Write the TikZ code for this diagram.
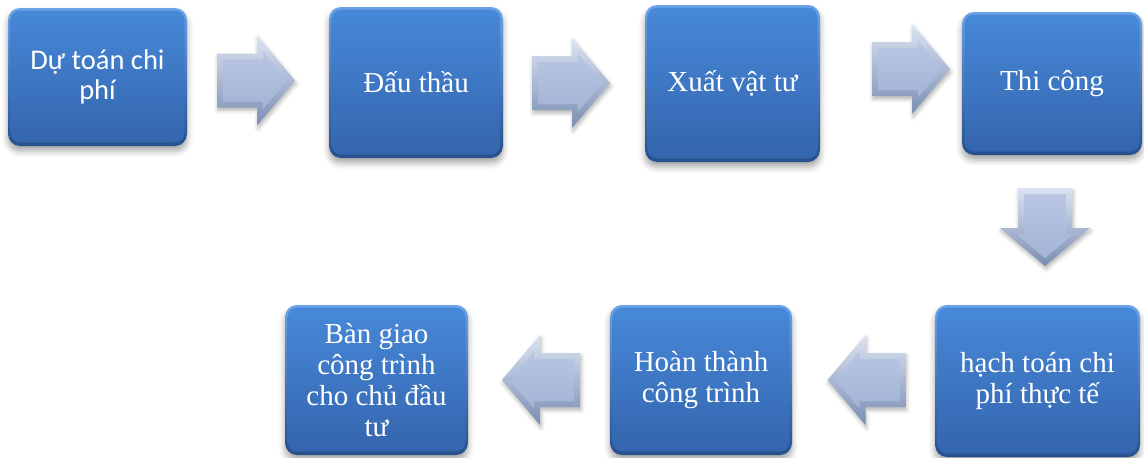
\documentclass[tikz,border=0pt]{standalone}
\usepackage{fontspec}
\setmainfont{Liberation Serif}
\newfontfamily\calibrifont{Carlito}
\usetikzlibrary{shadows.blur}

\definecolor{rimtop}{HTML}{6AA3E8}
\definecolor{rimbot}{HTML}{27508C}
\definecolor{facetop}{HTML}{4789D9}
\definecolor{facebot}{HTML}{3464AD}
\definecolor{arrowlight}{HTML}{DCE4F2}
\definecolor{arrowdark}{HTML}{7A8DB3}
\definecolor{arrowfaceA}{HTML}{B8C6E2}
\definecolor{arrowfaceB}{HTML}{A3B4D5}

\tikzset{
  stage/.style={
    rounded corners=12pt, top color=rimtop, bottom color=rimbot,
    text=white, align=center, inner sep=0pt,
    font=\fontsize{29}{31}\selectfont,
    blur shadow={shadow xshift=0pt, shadow yshift=-5pt,
                 shadow blur radius=6pt, shadow opacity=35},
    path picture={
      \shade[top color=facetop, bottom color=facebot, rounded corners=10pt]
        ([shift={(2.5pt,-2.5pt)}]path picture bounding box.north west)
        rectangle ([shift={(-2.5pt,3.5pt)}]path picture bounding box.south east);
    }
  },
  blockarrow/.pic={
    \shade[top color=arrowlight, bottom color=arrowdark,
           blur shadow={shadow xshift=1pt, shadow yshift=-3pt,
                        shadow blur radius=4pt, shadow opacity=30}]
      (-39,-27) -- (1,-27) -- (1,-45) -- (39,0) -- (1,45) -- (1,27) -- (-39,27) -- cycle;
    \shade[top color=arrowfaceA, bottom color=arrowfaceB]
      (-33,-21) -- (7,-21) -- (7,-28.6) -- (31.2,0) -- (7,28.6) -- (7,21) -- (-33,21) -- cycle;
  }
}

\begin{document}
\begin{tikzpicture}[x=1pt, y=-1pt]
  \useasboundingbox (0,0) rectangle (1144,458);

  % upper row of stages
  \node[stage, minimum width=179pt, minimum height=138pt,
        font=\calibrifont\fontsize{28.5}{30}\selectfont] (b1) at (97.5,77)
        {Dự toán chi\\phí};
  \node[stage, minimum width=174pt, minimum height=151pt] (b2) at (416,82.5) {Đấu thầu};
  \node[stage, minimum width=175pt, minimum height=157pt] (b3) at (732.5,83.5) {Xuất vật tư};
  \node[stage, minimum width=180pt, minimum height=143pt] (b4) at (1052,83.5) {Thi công};

  % lower row of stages
  \node[stage, minimum width=205pt, minimum height=152pt] (b5) at (1037.5,381)
        {hạch toán chi\\phí thực tế};
  \node[stage, minimum width=182pt, minimum height=150pt] (b6) at (701,380)
        {Hoàn thành\\công trình};
  \node[stage, minimum width=183pt, minimum height=150pt] (b7) at (376.5,380)
        {Bàn giao\\công trình\\cho chủ đầu\\tư};

  % block arrows between the stages (lit from the upper left)
  \pic (a1) at (256,80.5) {blockarrow};
  \pic (a2) at (571,83) {blockarrow};
  \pic (a3) at (911,69) {blockarrow};
  \pic[rotate=-90, yscale=-1] (a4) at (1045,227) {blockarrow};
  \pic[xscale=-1] (a5) at (866.5,380) {blockarrow};
  \pic[xscale=-1] (a6) at (541,380) {blockarrow};
\end{tikzpicture}
\end{document}
